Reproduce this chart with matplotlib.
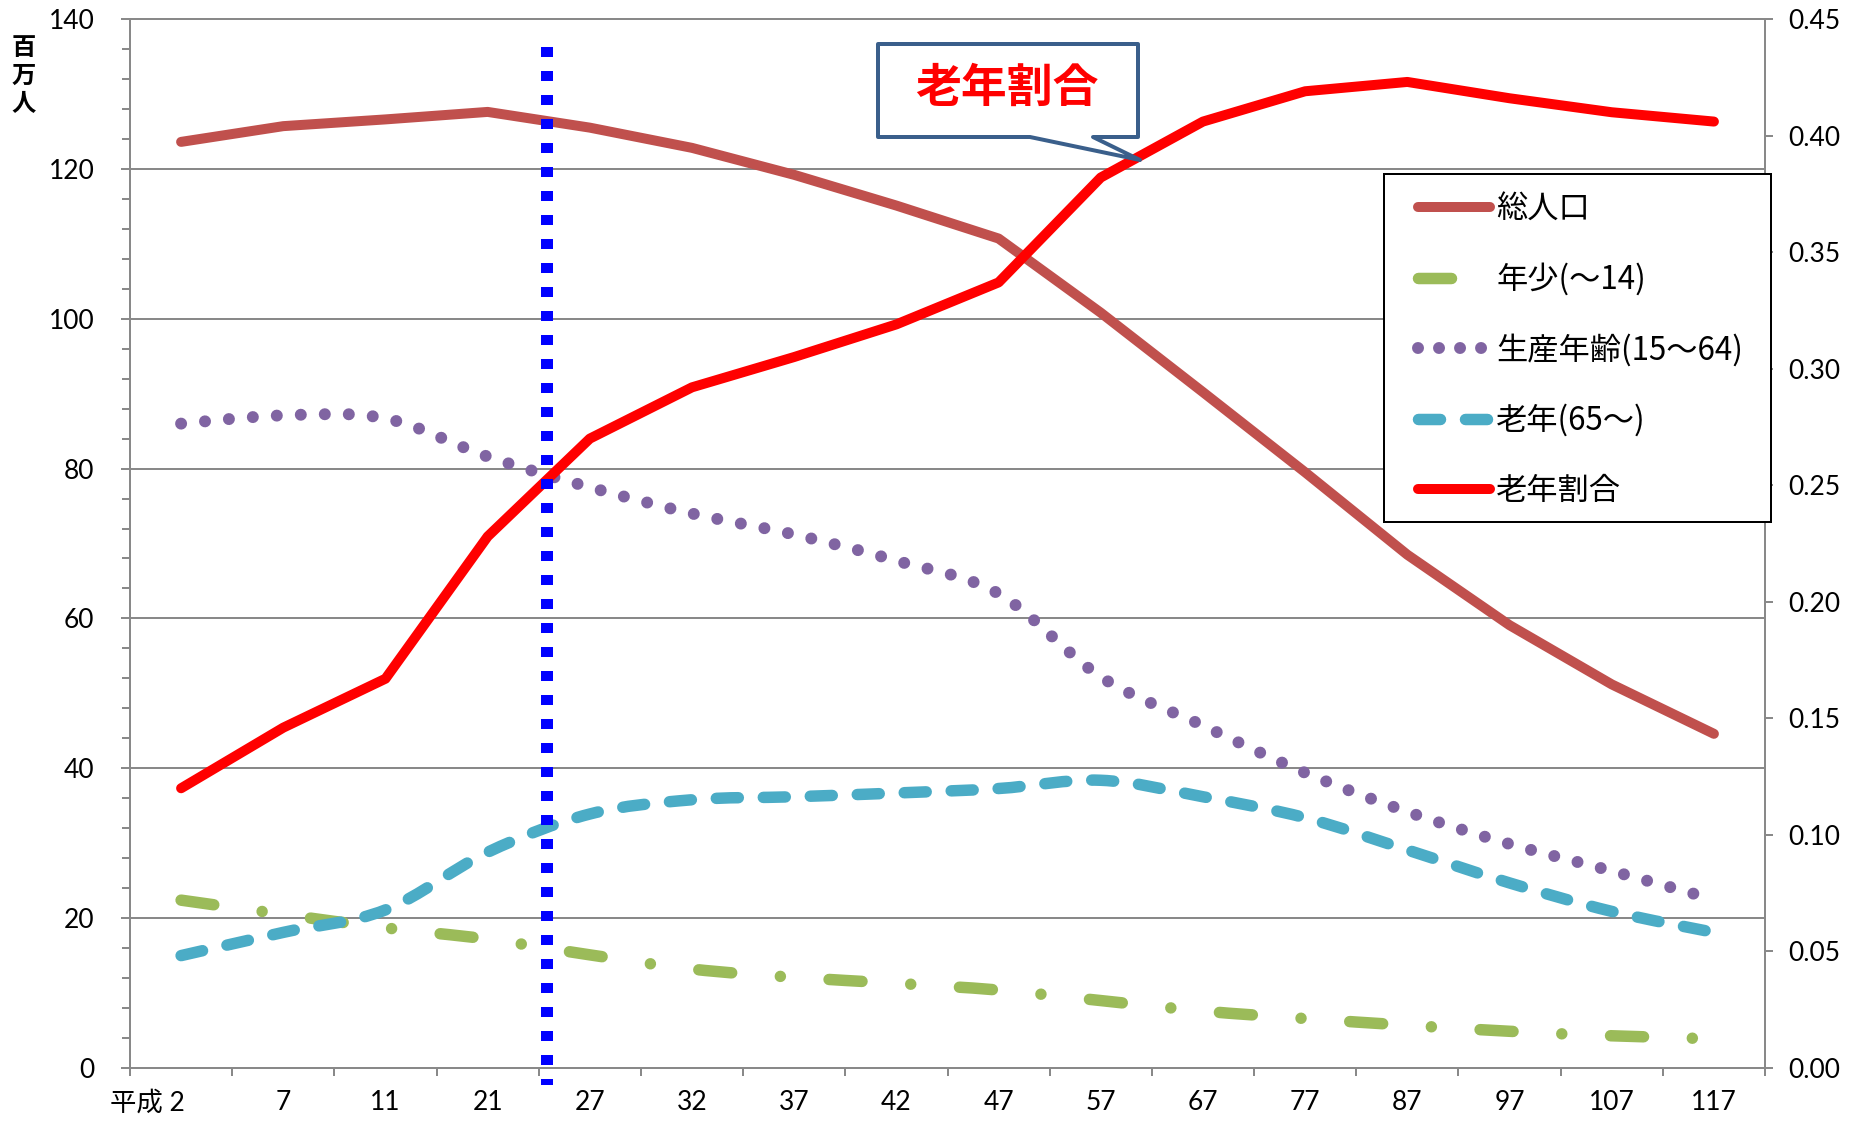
import numpy as np
import matplotlib
matplotlib.use('Agg')
import matplotlib.pyplot as plt
from matplotlib.path import Path
from matplotlib.patches import PathPatch, Rectangle
from matplotlib.lines import Line2D
from matplotlib.ticker import MultipleLocator
import matplotlib.transforms as mtransforms

plt.rcParams['lines.scale_dashes'] = False
plt.rcParams['font.family'] = ['Lato', 'Noto Sans CJK JP', 'DejaVu Sans']

# ---------------- data ----------------
categories = ['平成 2', '7', '11', '21', '27', '32', '37', '42', '47',
              '57', '67', '77', '87', '97', '107', '117']
total_pop = [123.6, 125.7, 126.6, 127.6, 125.5, 122.8, 119.2, 115.1, 110.7,
             100.8, 90.2, 79.5, 68.5, 59.1, 51.2, 44.6]
young_pop = [22.4, 20.5, 18.7, 17.2, 15.1, 13.2, 12.1, 11.3, 10.4,
             9.0, 7.6, 6.6, 5.7, 4.9, 4.3, 3.9]
working_pop = [86.0, 87.1, 86.7, 81.6, 77.5, 74.0, 71.2, 67.7, 63.3,
               52.2, 45.7, 39.4, 34.2, 29.9, 26.3, 22.5]
elderly_pop = [15.0, 18.1, 21.1, 28.8, 33.9, 35.8, 36.2, 36.7, 37.3,
               38.4, 36.2, 33.4, 29.1, 24.7, 20.9, 18.1]
elderly_ratio = [0.120, 0.146, 0.167, 0.228, 0.270, 0.292, 0.305, 0.319, 0.337,
                 0.382, 0.406, 0.419, 0.423, 0.416, 0.410, 0.406]
series_labels = ['総人口', '年少(～14)', '生産年齢(15～64)', '老年(65～)', '老年割合']
left_ticks = [0, 20, 40, 60, 80, 100, 120, 140]
right_ticks = [0.00, 0.05, 0.10, 0.15, 0.20, 0.25, 0.30, 0.35, 0.40, 0.45]
current_index = 3.58      # position of the vertical marker (between 21 and 27)
y_unit = '百\n万\n人'
callout_text = '老年割合'

# ---------------- style ----------------
W, H = 1851, 1122
PX = 0.72  # points per pixel at dpi 100
C_TOTAL = '#C0504D'
C_YOUNG = '#9BBB59'
C_WORK = '#8064A2'
C_OLD = '#4BACC6'
C_RATIO = '#FF0000'
C_GRID = '#898989'

fig = plt.figure(figsize=(W / 100, H / 100), dpi=100)
L, R, T, B = 130, 1765, 19, 1068
ax = fig.add_axes([L / W, 1 - B / H, (R - L) / W, (B - T) / H])
ax2 = ax.twinx()

x = np.arange(len(categories))


def smooth_path(xs, ys):
    pts = np.column_stack([xs, ys]).astype(float)
    n = len(pts)
    verts = [pts[0]]
    codes = [Path.MOVETO]
    for i in range(n - 1):
        p0 = pts[i - 1] if i > 0 else pts[i]
        p1 = pts[i]
        p2 = pts[i + 1]
        p3 = pts[i + 2] if i + 2 < n else pts[i + 1]
        verts += [p1 + (p2 - p0) / 6, p2 - (p3 - p1) / 6, p2]
        codes += [Path.CURVE4] * 3
    return Path(verts, codes)


# styles
st_total = dict(color=C_TOTAL, lw=10 * PX, solid_capstyle='round', solid_joinstyle='round')
st_ratio = dict(color=C_RATIO, lw=10 * PX, solid_capstyle='round', solid_joinstyle='round')
lw_young, lw_work, lw_old = 11.5 * PX, 12 * PX, 11.5 * PX
dash_young = (0, (33 * PX, 48.8 * PX, 0.01, 48.8 * PX))
dash_work = (0, (0.01, 24 * PX))
dash_old = (0, (22 * PX, 25 * PX))

ax.plot(x, total_pop, zorder=3, **st_total)

for vals, col, lw, ls in [(young_pop, C_YOUNG, lw_young, dash_young),
                          (working_pop, C_WORK, lw_work, dash_work),
                          (elderly_pop, C_OLD, lw_old, dash_old)]:
    p = PathPatch(smooth_path(x, vals), fill=False, edgecolor=col, lw=lw,
                  linestyle=ls, capstyle='round', joinstyle='round', zorder=3)
    ax.add_patch(p)

ax2.plot(x, elderly_ratio, zorder=3, **st_ratio)

# axes limits and ticks
ax.set_xlim(-0.5, len(categories) - 0.5)
ax.set_ylim(0, 140)
ax2.set_ylim(0, 0.45)
ax.set_yticks(left_ticks)
ax.set_yticklabels([str(v) for v in left_ticks])
ax.yaxis.set_minor_locator(MultipleLocator(4))
ax2.set_yticks(right_ticks)
ax2.set_yticklabels([f'{v:.2f}' for v in right_ticks])

ax.set_xticks(np.arange(-0.5, len(categories), 1.0))
ax.set_xticklabels([])
ax.set_xticks(x, minor=True)
ax.set_xticklabels(categories, minor=True)

tick_col = C_GRID
tw = 2 * PX
ax.tick_params(axis='x', which='major', direction='out', length=8 * PX, width=tw, color=tick_col)
ax.tick_params(axis='x', which='minor', length=0, pad=16, labelsize=19)
ax.tick_params(axis='y', which='major', direction='out', length=9 * PX, width=tw,
               color=tick_col, pad=19, labelsize=19)
ax.tick_params(axis='y', which='minor', direction='out', length=8 * PX, width=tw,
               color=tick_col)
ax2.tick_params(axis='y', which='major', direction='out', length=8 * PX, width=tw,
                color=tick_col, pad=11, labelsize=19)

# first x label: "2" under its category, "平成" to the left
lbl0 = ax.get_xticklabels(minor=True)[0]
lbl0.set_horizontalalignment('right')
lbl0.set_transform(lbl0.get_transform() + mtransforms.ScaledTranslation(0.04, 0, fig.dpi_scale_trans))

ax.grid(axis='y', which='major', color=C_GRID, lw=2 * PX)
ax.set_axisbelow(True)
for a in (ax, ax2):
    for s in a.spines.values():
        s.set_color(C_GRID)
        s.set_linewidth(2 * PX)

# vertical blue dotted marker
trans = mtransforms.blended_transform_factory(ax2.transData, ax2.transAxes)
ax2.add_line(Line2D([current_index, current_index], [0.973, -0.016], transform=trans,
                    color='#0000FF', lw=12 * PX, linestyle=(0, (10 * PX, 14 * PX)),
                    dash_capstyle='butt', clip_on=False, zorder=6))

# legend (frame drawn separately for exact padding)
handles = [
    Line2D([], [], **st_total),
    Line2D([], [], color=C_YOUNG, lw=lw_young, linestyle=dash_young, dash_capstyle='round'),
    Line2D([], [], color=C_WORK, lw=lw_work, linestyle=(0, (0.01, 21 * PX)), dash_capstyle='round'),
    Line2D([], [], color=C_OLD, lw=lw_old, linestyle=dash_old, dash_capstyle='round'),
    Line2D([], [], **st_ratio),
]
lx0, ly0, lx1, ly1 = 1384, 174, 1771, 522
frame = Rectangle((lx0 / W, 1 - ly1 / H), (lx1 - lx0) / W, (ly1 - ly0) / H,
                  transform=fig.transFigure, facecolor='white', edgecolor='black',
                  lw=2 * PX, clip_on=False, zorder=9)
ax2.add_patch(frame)
leg = ax2.legend(handles, series_labels, loc='upper left',
                 bbox_to_anchor=(1418 / W, 1 - 193 / H),
                 bbox_transform=fig.transFigure, borderaxespad=0, borderpad=0,
                 frameon=False,
                 prop={'family': ['Noto Sans CJK JP'], 'size': 22.5},
                 handlelength=2.3, handletextpad=0.2, labelspacing=1.21)
leg.set_zorder(10)

# y unit label
fig.text(24 / W, 1 - 76 / H, y_unit, ha='center', va='center', fontsize=17.5,
         fontweight='bold', family=['Noto Sans CJK JP'], linespacing=1.2)

# callout
bx0, by0, bx1, by1 = 878, 44, 1138, 137
tb0, tb1, tipx, tipy = 1030, 1093, 1140, 160
pts = [(bx0, by0), (bx1, by0), (bx1, by1), (tb1, by1), (tipx, tipy), (tb0, by1),
       (bx0, by1), (bx0, by0)]
verts = [(px / W, 1 - py / H) for px, py in pts]
codes = [Path.MOVETO] + [Path.LINETO] * (len(verts) - 2) + [Path.CLOSEPOLY]
callout = PathPatch(Path(verts, codes), transform=fig.transFigure, facecolor='white',
                    edgecolor='#3A5F8B', lw=4 * PX, joinstyle='round', zorder=20)
fig.add_artist(callout)
fig.text(1007 / W, 1 - 89 / H, callout_text, ha='center', va='center', fontsize=33,
         fontweight='bold', color='#FF0000', family=['Noto Sans CJK JP'], zorder=21)

fig.savefig('out.png', dpi=100)
